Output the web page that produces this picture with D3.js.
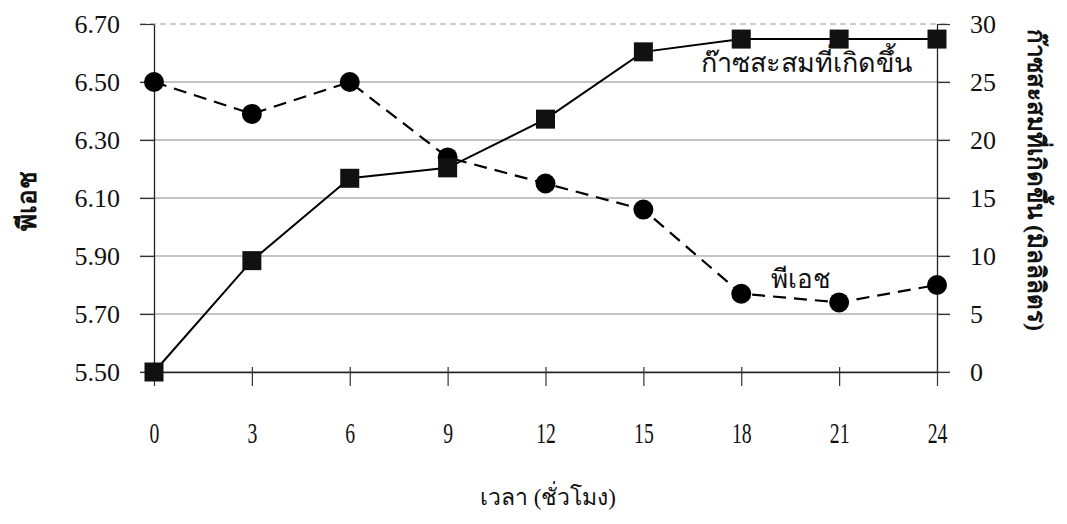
<!DOCTYPE html>
<html><head><meta charset="utf-8">
<script src="https://cdn.jsdelivr.net/npm/d3@7"></script>
<style>
body{margin:0;background:#fff;}
svg{display:block;}
text{font-family:"Liberation Serif","DejaVu Serif",serif;fill:#111;}
</style></head>
<body>
<svg id="c" width="1067" height="524"></svg>
<script>
const hours = [0,3,6,9,12,15,18,21,24];
const phValues = [6.50,6.39,6.50,6.24,6.15,6.06,5.77,5.74,5.80];
const gasValues = [0,9.6,16.7,17.6,21.8,27.6,28.7,28.7,28.7];
const phTicks = [5.5,5.7,5.9,6.1,6.3,6.5,6.7];
const gasTicks = [0,5,10,15,20,25,30];
const xTickLabels = hours;
const xTitle = "เวลา (ชั่วโมง)";
const leftTitle = "พีเอช";
const rightTitle = "ก๊าซสะสมที่เกิดขึ้น (มิลลิลิตร)";
const gasLabel = "ก๊าซสะสมที่เกิดขึ้น";
const phLabel = "พีเอช";

const svg = d3.select("#c");
const L = 154, R = 937, T = 24, B = 372;
const x = d3.scaleLinear().domain([0,24]).range([L,R]);
const yL = d3.scaleLinear().domain([5.5,6.7]).range([B,T]);
const yR = d3.scaleLinear().domain([0,30]).range([B,T]);

// gridlines
svg.append("g").selectAll("line").data(phTicks).join("line")
  .attr("x1",L-14).attr("x2",R+13)
  .attr("y1",d=>yL(d)).attr("y2",d=>yL(d))
  .attr("stroke",(d,i)=> i===phTicks.length-1 ? "#999" : "#8a8a8a")
  .attr("stroke-width",1.2)
  .attr("stroke-dasharray",(d,i)=> i===phTicks.length-1 ? "6,4" : null);

const fs = "26px";
// left axis
const gl = svg.append("g").attr("transform",`translate(${L},0)`)
  .call(d3.axisLeft(yL).tickValues(phTicks).tickFormat(d3.format(".2f")).tickSizeInner(14).tickSizeOuter(0).tickPadding(20));
gl.selectAll("text").style("font-size",fs);
// right axis
const gr = svg.append("g").attr("transform",`translate(${R},0)`)
  .call(d3.axisRight(yR).tickValues(gasTicks).tickSizeInner(13).tickSizeOuter(0).tickPadding(20));
gr.selectAll("text").style("font-size",fs);
// bottom axis
const gb = svg.append("g").attr("transform",`translate(0,${B})`)
  .call(d3.axisBottom(x).tickValues(xTickLabels).tickSizeInner(14).tickSizeOuter(0).tickPadding(36));
gb.selectAll("text").style("font-size","29px").attr("transform","scale(0.68,1)");
svg.append("g").attr("transform",`translate(0,${B})`)
  .call(d3.axisBottom(x).tickValues(xTickLabels).tickSizeInner(-5).tickSizeOuter(0).tickFormat(""))
  .select(".domain").remove();
svg.selectAll(".domain").attr("stroke","#222").attr("stroke-width",1.3);
svg.selectAll(".tick line").attr("stroke","#333").attr("stroke-width",1.2);

// pH line
svg.append("path").datum(hours.map((h,i)=>[h,phValues[i]]))
  .attr("fill","none").attr("stroke","#000").attr("stroke-width",2.2)
  .attr("stroke-dasharray","13,8")
  .attr("d",d3.line().x(d=>x(d[0])).y(d=>yL(d[1])));
svg.append("g").selectAll("circle").data(hours).join("circle")
  .attr("cx",d=>x(d)).attr("cy",(d,i)=>yL(phValues[i])).attr("r",10).attr("fill","#000");

// gas line
svg.append("path").datum(hours.map((h,i)=>[h,gasValues[i]]))
  .attr("fill","none").attr("stroke","#000").attr("stroke-width",2)
  .attr("d",d3.line().x(d=>x(d[0])).y(d=>yR(d[1])));
const s = 19;
svg.append("g").selectAll("rect").data(hours).join("rect")
  .attr("x",d=>x(d)-s/2).attr("y",(d,i)=>yR(gasValues[i])-s/2)
  .attr("width",s).attr("height",s).attr("fill","#111");

// annotations
svg.append("text").attr("x",806).attr("y",72).attr("text-anchor","middle")
  .style("font-size","27px").text(gasLabel);
svg.append("text").attr("x",801).attr("y",288).attr("text-anchor","middle")
  .style("font-size","26px").text(phLabel);

// titles
svg.append("text").attr("x",548).attr("y",505).attr("text-anchor","middle")
  .style("font-size","23px").text(xTitle);
svg.append("text").attr("transform","translate(36,201) rotate(-90)").attr("text-anchor","middle")
  .style("font-size","26px").style("font-weight","bold").text(leftTitle);
svg.append("text").attr("transform","translate(1028,180) rotate(90)").attr("text-anchor","middle")
  .style("font-size","24px").style("font-weight","bold").text(rightTitle);
</script>
</body></html>
